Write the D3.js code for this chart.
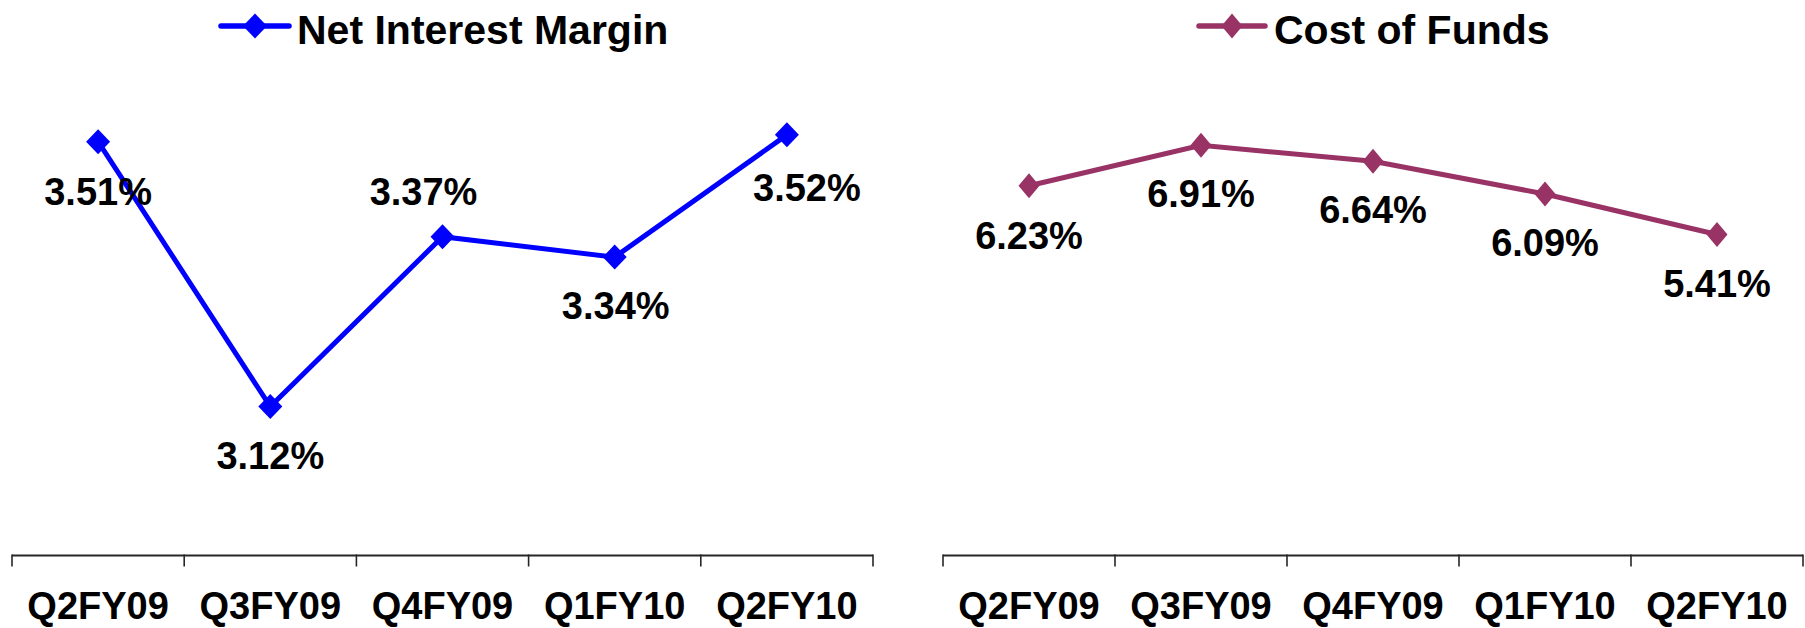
<!DOCTYPE html>
<html>
<head>
<meta charset="utf-8">
<script src="https://cdn.jsdelivr.net/npm/d3@7"></script>
<style>
  html, body { margin: 0; padding: 0; background: #fff; }
  svg { display: block; font-family: "Liberation Sans", Arial, sans-serif; font-weight: bold; }
</style>
</head>
<body>
<svg id="chart" width="1805" height="628"></svg>
<script>
// Quarters shown on both panels
const quarters = ["Q2FY09", "Q3FY09", "Q4FY09", "Q1FY10", "Q2FY10"];

// Net Interest Margin (%)
const nimValues = [3.51, 3.12, 3.37, 3.34, 3.52];

// Cost of Funds (%)
const cofValues = [6.23, 6.91, 6.64, 6.09, 5.41];

// Value axis extents per panel
const nimDomain = [2.9, 3.6];
const cofDomain = [0, 8];

const svg = d3.select("#chart");

// Label placement relative to each point: [dx, dy of baseline]
const nimLabelOffsets = [[0, 63], [0, 62], [-19, -32], [1, 62], [20, 66]];
const cofLabelOffsets = [[0, 63], [0, 62], [0, 62], [0, 62], [0, 63]];

const panels = [
  {
    name: "Net Interest Margin", values: nimValues, domain: nimDomain,
    color: "#0000FF", x0: 12, x1: 873, offsets: nimLabelOffsets,
    legend: { lineX0: 221, lineX1: 289, textX: 297 },
    marker: { hw: 12, hh: 12.5 }
  },
  {
    name: "Cost of Funds", values: cofValues, domain: cofDomain,
    color: "#993366", x0: 943, x1: 1803, offsets: cofLabelOffsets,
    legend: { lineX0: 1199, lineX1: 1265, textX: 1274 },
    marker: { hw: 10.5, hh: 12.5 }
  }
];

const axisY = 555.5;
const plotTop = 80.5;
const plotBottom = 556;

function diamond(hw, hh) {
  return `M0,${-hh}L${hw},0L0,${hh}L${-hw},0Z`;
}

panels.forEach(p => {
  const g = svg.append("g");

  const x = d3.scaleBand().domain(quarters).range([p.x0, p.x1]).padding(0);
  const y = d3.scaleLinear().domain(p.domain).range([plotBottom, plotTop]);

  // Category axis with outward ticks at band boundaries
  const axisG = g.append("g").attr("transform", `translate(0,${axisY})`);
  axisG.append("line")
    .attr("x1", p.x0).attr("x2", p.x1)
    .attr("stroke", "#262626").attr("stroke-width", 2);
  const bounds = quarters.map(q => x(q)).concat([p.x1]);
  axisG.selectAll("line.tick")
    .data(bounds)
    .join("line")
    .attr("class", "tick")
    .attr("x1", d => d).attr("x2", d => d)
    .attr("y1", -1).attr("y2", 11)
    .attr("stroke", "#262626").attr("stroke-width", 1.6);
  axisG.selectAll("text")
    .data(quarters)
    .join("text")
    .attr("x", d => x(d) + x.bandwidth() / 2)
    .attr("y", 63.5)
    .attr("text-anchor", "middle")
    .attr("font-size", 38)
    .attr("fill", "#000")
    .text(d => d);

  const cx = (d, i) => x(quarters[i]) + x.bandwidth() / 2;

  // Series line
  const line = d3.line()
    .x((d, i) => cx(d, i))
    .y(d => y(d));
  g.append("path")
    .datum(p.values)
    .attr("d", line)
    .attr("fill", "none")
    .attr("stroke", p.color)
    .attr("stroke-width", 5)
    .attr("stroke-linejoin", "miter");

  // Diamond markers
  g.selectAll("path.marker")
    .data(p.values)
    .join("path")
    .attr("class", "marker")
    .attr("transform", (d, i) => `translate(${cx(d, i)},${y(d)})`)
    .attr("d", diamond(p.marker.hw, p.marker.hh))
    .attr("fill", p.color);

  // Value labels
  g.selectAll("text.value")
    .data(p.values)
    .join("text")
    .attr("class", "value")
    .attr("x", (d, i) => cx(d, i) + p.offsets[i][0])
    .attr("y", (d, i) => y(d) + p.offsets[i][1])
    .attr("text-anchor", "middle")
    .attr("font-size", 38)
    .attr("fill", "#000")
    .text(d => d.toFixed(2) + "%");

  // Legend
  const lg = g.append("g");
  lg.append("line")
    .attr("x1", p.legend.lineX0).attr("x2", p.legend.lineX1)
    .attr("y1", 26).attr("y2", 26)
    .attr("stroke", p.color).attr("stroke-width", 5.5)
    .attr("stroke-linecap", "round");
  lg.append("path")
    .attr("transform", `translate(${(p.legend.lineX0 + p.legend.lineX1) / 2},26)`)
    .attr("d", diamond(p.marker.hw, p.marker.hh))
    .attr("fill", p.color);
  lg.append("text")
    .attr("x", p.legend.textX)
    .attr("y", 44)
    .attr("font-size", 41)
    .attr("fill", "#000")
    .text(p.name);
});
</script>
</body>
</html>
